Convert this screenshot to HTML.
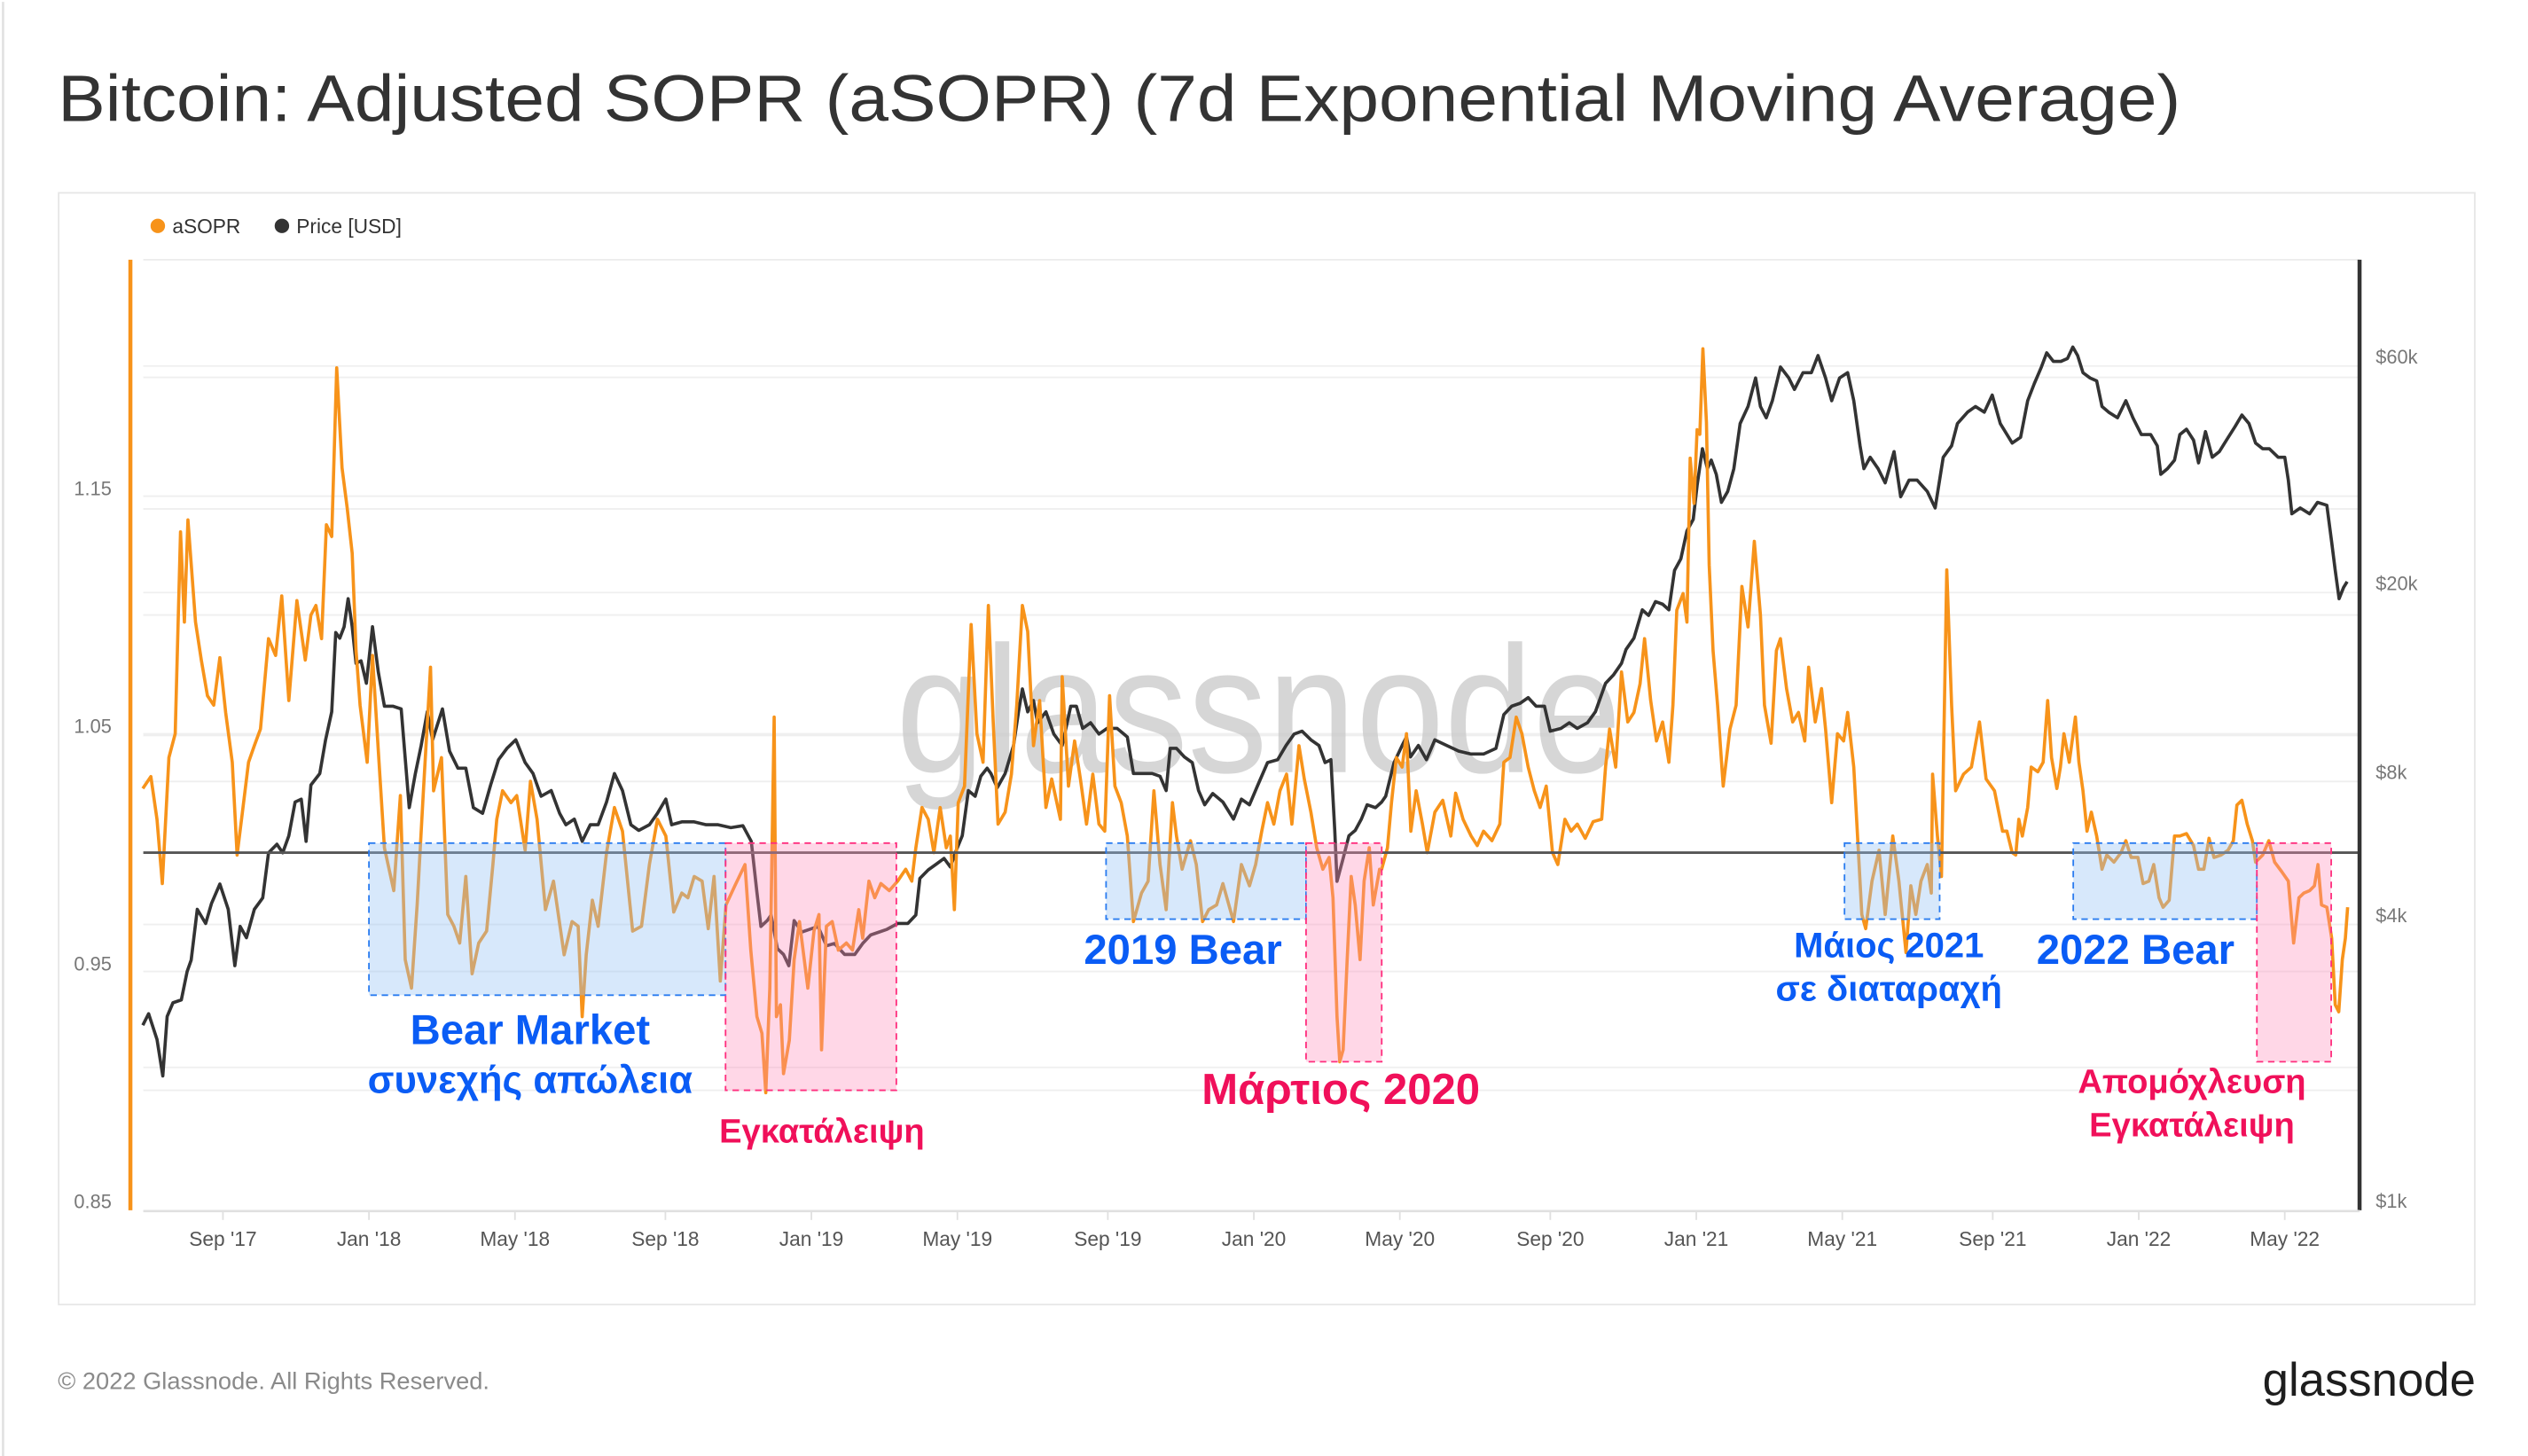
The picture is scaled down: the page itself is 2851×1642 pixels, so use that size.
<!DOCTYPE html>
<html><head><meta charset="utf-8"><style>
html,body{margin:0;padding:0;background:#fff;}
svg{display:block;font-family:"Liberation Sans",sans-serif;}
</style></head><body>
<svg id="chart" width="2851" height="1642" viewBox="-0.9 -1.2 1568.4 903.7" preserveAspectRatio="none" xmlns="http://www.w3.org/2000/svg">
<rect x="-1" y="-2" width="1572" height="908" fill="#fff"/>
<line x1="1" y1="0" x2="1" y2="903" stroke="#e2e2e2" stroke-width="1.5"/>
<text x="35" y="74" font-size="41" fill="#333" textLength="1317" lengthAdjust="spacingAndGlyphs">Bitcoin: Adjusted SOPR (aSOPR) (7d Exponential Moving Average)</text>
<rect x="35.5" y="118.5" width="1499" height="690" fill="#fff" stroke="#e6e6e6" stroke-width="1"/>
<g>
<circle cx="97" cy="139" r="4.5" fill="#f7931a"/>
<text x="106" y="143.5" font-size="12.5" fill="#333">aSOPR</text>
<circle cx="174" cy="139" r="4.5" fill="#333"/>
<text x="183" y="143.5" font-size="12.5" fill="#333">Price [USD]</text>
</g>
<g id="grid"></g>
<text x="780" y="478" font-size="112" fill="#c8c8c8" fill-opacity="0.75" text-anchor="middle" textLength="450" lengthAdjust="spacingAndGlyphs">glassnode</text>
<g id="series"></g>
<g id="boxes"></g>
<g id="axes"></g>
<g font-weight="bold" text-anchor="middle">
<text x="328" y="647" font-size="26" fill="#0a5cf5">Bear Market</text>
<text x="328" y="677" font-size="24" fill="#0a5cf5">συνεχής απώλεια</text>
<text x="509" y="708" font-size="21" fill="#f0105a">Εγκατάλειψη</text>
<text x="733" y="597" font-size="26" fill="#0a5cf5">2019 Bear</text>
<text x="831" y="684" font-size="27" fill="#f0105a">Μάρτιος 2020</text>
<text x="1171" y="593" font-size="22" fill="#0a5cf5">Μάιος 2021</text>
<text x="1171" y="620" font-size="22" fill="#0a5cf5">σε διαταραχή</text>
<text x="1324" y="597" font-size="26" fill="#0a5cf5">2022 Bear</text>
<text x="1359" y="677" font-size="21" fill="#f0105a">Απομόχλευση</text>
<text x="1359" y="704" font-size="21" fill="#f0105a">Εγκατάλειψη</text>
</g>
<text x="35" y="861" font-size="15" fill="#8a8a8a">© 2022 Glassnode. All Rights Reserved.</text>
<text x="1535" y="865" font-size="29" fill="#1e1e1e" text-anchor="end">glassnode</text>
</svg>
<script>
const asoprT=[2017.489,2017.507,2017.521,2017.533,2017.548,2017.562,2017.574,2017.583,2017.591,2017.608,2017.621,2017.635,2017.649,2017.663,2017.676,2017.691,2017.702,2017.714,2017.728,2017.741,2017.755,2017.773,2017.789,2017.803,2017.819,2017.837,2017.856,2017.869,2017.880,2017.893,2017.904,2017.916,2017.927,2017.939,2017.951,2017.962,2017.971,2017.980,2017.996,2018.008,2018.021,2018.035,2018.056,2018.071,2018.082,2018.096,2018.109,2018.123,2018.139,2018.146,2018.164,2018.178,2018.192,2018.205,2018.219,2018.233,2018.248,2018.266,2018.280,2018.289,2018.302,2018.321,2018.334,2018.353,2018.365,2018.380,2018.399,2018.417,2018.441,2018.459,2018.473,2018.482,2018.491,2018.505,2018.518,2018.537,2018.555,2018.573,2018.596,2018.616,2018.634,2018.652,2018.671,2018.689,2018.707,2018.721,2018.735,2018.753,2018.767,2018.780,2018.794,2018.807,2018.827,2018.850,2018.863,2018.877,2018.888,2018.897,2018.906,2018.916,2018.921,2018.930,2018.937,2018.950,2018.961,2018.973,2018.992,2019.006,2019.017,2019.023,2019.034,2019.047,2019.061,2019.079,2019.093,2019.107,2019.116,2019.130,2019.143,2019.157,2019.176,2019.195,2019.213,2019.227,2019.236,2019.250,2019.264,2019.277,2019.291,2019.305,2019.314,2019.323,2019.332,2019.346,2019.361,2019.374,2019.388,2019.400,2019.411,2019.422,2019.438,2019.452,2019.464,2019.477,2019.489,2019.502,2019.516,2019.530,2019.543,2019.563,2019.567,2019.581,2019.595,2019.608,2019.622,2019.636,2019.650,2019.663,2019.674,2019.686,2019.700,2019.714,2019.728,2019.746,2019.761,2019.774,2019.788,2019.802,2019.816,2019.825,2019.838,2019.857,2019.870,2019.884,2019.898,2019.916,2019.930,2019.954,2019.972,2019.990,2020.004,2020.018,2020.031,2020.045,2020.059,2020.074,2020.086,2020.102,2020.114,2020.129,2020.142,2020.156,2020.170,2020.179,2020.188,2020.194,2020.202,2020.211,2020.220,2020.229,2020.240,2020.249,2020.261,2020.270,2020.284,2020.289,2020.302,2020.311,2020.322,2020.335,2020.345,2020.355,2020.367,2020.381,2020.392,2020.409,2020.427,2020.445,2020.456,2020.473,2020.491,2020.505,2020.519,2020.538,2020.556,2020.565,2020.579,2020.593,2020.606,2020.620,2020.634,2020.647,2020.661,2020.675,2020.687,2020.703,2020.717,2020.731,2020.749,2020.767,2020.786,2020.795,2020.804,2020.818,2020.831,2020.845,2020.859,2020.873,2020.883,2020.897,2020.910,2020.924,2020.938,2020.947,2020.956,2020.970,2020.979,2020.986,2020.995,2021.002,2021.008,2021.015,2021.023,2021.029,2021.038,2021.048,2021.061,2021.076,2021.090,2021.103,2021.117,2021.131,2021.145,2021.154,2021.169,2021.181,2021.190,2021.204,2021.218,2021.231,2021.245,2021.254,2021.269,2021.283,2021.292,2021.306,2021.319,2021.333,2021.342,2021.356,2021.365,2021.374,2021.383,2021.397,2021.413,2021.427,2021.444,2021.458,2021.474,2021.485,2021.496,2021.508,2021.522,2021.531,2021.534,2021.545,2021.554,2021.566,2021.577,2021.586,2021.604,2021.622,2021.640,2021.655,2021.674,2021.692,2021.702,2021.714,2021.722,2021.729,2021.737,2021.749,2021.757,2021.772,2021.784,2021.794,2021.803,2021.815,2021.823,2021.831,2021.843,2021.857,2021.865,2021.874,2021.883,2021.893,2021.905,2021.917,2021.928,2021.944,2021.960,2021.971,2021.983,2021.998,2022.010,2022.023,2022.034,2022.046,2022.055,2022.069,2022.081,2022.093,2022.108,2022.124,2022.135,2022.147,2022.159,2022.170,2022.186,2022.202,2022.214,2022.222,2022.233,2022.245,2022.257,2022.264,2022.280,2022.294,2022.307,2022.323,2022.338,2022.350,2022.362,2022.373,2022.386,2022.397,2022.405,2022.413,2022.425,2022.436,2022.444,2022.452,2022.460,2022.467,2022.472];
const asoprV=[1.027,1.032,1.014,0.987,1.040,1.050,1.135,1.097,1.140,1.097,1.081,1.066,1.062,1.082,1.059,1.038,0.999,1.017,1.038,1.045,1.052,1.090,1.083,1.108,1.064,1.106,1.081,1.100,1.104,1.090,1.138,1.133,1.204,1.162,1.145,1.126,1.085,1.062,1.038,1.083,1.043,1.002,0.984,1.024,0.955,0.943,0.978,1.026,1.078,1.026,1.040,0.974,0.969,0.962,0.990,0.949,0.962,0.967,0.995,1.014,1.026,1.021,1.024,1.001,1.030,1.014,0.976,0.988,0.957,0.971,0.969,0.931,0.957,0.980,0.969,1.000,1.019,1.009,0.967,0.969,0.995,1.014,1.007,0.975,0.983,0.981,0.990,0.988,0.968,0.990,0.946,0.978,0.986,0.995,0.959,0.931,0.924,0.899,0.943,1.057,0.931,0.936,0.907,0.921,0.955,0.971,0.943,0.967,0.974,0.917,0.969,0.971,0.959,0.962,0.959,0.976,0.964,0.988,0.981,0.987,0.984,0.988,0.993,0.988,1.002,1.019,1.014,1.000,1.019,1.002,1.007,0.976,1.021,1.028,1.096,1.050,1.038,1.104,1.055,1.012,1.017,1.033,1.062,1.104,1.093,1.045,1.064,1.019,1.031,1.014,1.074,1.028,1.047,1.031,1.012,1.033,1.012,1.009,1.066,1.028,1.021,1.007,0.971,0.983,0.988,1.026,0.995,0.976,1.021,1.007,0.993,1.005,0.995,0.971,0.976,0.978,0.987,0.971,0.995,0.986,0.995,1.009,1.021,1.012,1.026,1.033,1.012,1.045,1.031,1.017,1.002,0.993,0.998,0.981,0.931,0.912,0.917,0.955,0.990,0.978,0.955,0.988,1.002,0.978,0.993,0.993,1.002,1.021,1.040,1.036,1.050,1.009,1.026,1.012,1.000,1.017,1.022,1.007,1.025,1.014,1.007,1.003,1.009,1.005,1.012,1.038,1.040,1.057,1.050,1.036,1.026,1.019,1.028,1.000,0.995,1.014,1.009,1.012,1.006,1.013,1.014,1.036,1.052,1.036,1.076,1.055,1.059,1.071,1.090,1.064,1.047,1.055,1.038,1.062,1.102,1.109,1.097,1.166,1.147,1.178,1.176,1.212,1.181,1.121,1.085,1.062,1.028,1.052,1.062,1.112,1.095,1.131,1.100,1.062,1.046,1.085,1.090,1.069,1.055,1.059,1.047,1.078,1.055,1.069,1.052,1.021,1.050,1.047,1.059,1.036,1.005,0.974,0.968,0.988,1.001,0.974,1.007,0.988,0.958,0.986,0.974,0.988,0.995,0.983,1.033,1.007,0.990,1.119,1.062,1.026,1.033,1.036,1.055,1.031,1.026,1.009,1.009,1.000,0.999,1.014,1.007,1.019,1.036,1.034,1.038,1.064,1.040,1.027,1.036,1.050,1.038,1.057,1.038,1.026,1.009,1.017,1.007,0.993,0.999,0.996,1.000,1.005,0.998,0.998,0.987,0.988,0.995,0.981,0.977,0.980,1.007,1.007,1.008,1.003,0.993,0.993,1.006,0.998,0.999,1.001,1.005,1.020,1.022,1.012,1.005,0.996,0.999,1.005,0.996,0.992,0.988,0.962,0.981,0.983,0.984,0.986,0.995,0.978,0.977,0.964,0.936,0.933,0.955,0.964,0.977];
const priceT=[2017.489,2017.502,2017.521,2017.534,2017.544,2017.557,2017.576,2017.589,2017.598,2017.612,2017.631,2017.644,2017.663,2017.682,2017.697,2017.709,2017.723,2017.741,2017.760,2017.773,2017.792,2017.805,2017.819,2017.833,2017.847,2017.858,2017.869,2017.889,2017.902,2017.916,2017.925,2017.934,2017.944,2017.953,2017.962,2017.971,2017.982,2017.994,2018.008,2018.021,2018.035,2018.054,2018.073,2018.091,2018.105,2018.118,2018.132,2018.144,2018.166,2018.182,2018.201,2018.219,2018.236,2018.257,2018.275,2018.293,2018.312,2018.332,2018.353,2018.371,2018.389,2018.412,2018.431,2018.445,2018.464,2018.482,2018.500,2018.518,2018.537,2018.555,2018.573,2018.592,2018.610,2018.634,2018.652,2018.671,2018.684,2018.707,2018.735,2018.762,2018.789,2018.818,2018.845,2018.864,2018.877,2018.886,2018.900,2018.909,2018.923,2018.937,2018.949,2018.961,2018.978,2018.996,2019.015,2019.034,2019.052,2019.075,2019.098,2019.116,2019.134,2019.153,2019.171,2019.195,2019.218,2019.236,2019.245,2019.264,2019.282,2019.300,2019.314,2019.328,2019.341,2019.355,2019.370,2019.383,2019.397,2019.406,2019.420,2019.438,2019.457,2019.468,2019.477,2019.489,2019.502,2019.511,2019.530,2019.548,2019.567,2019.586,2019.599,2019.613,2019.631,2019.650,2019.668,2019.691,2019.714,2019.728,2019.746,2019.770,2019.788,2019.802,2019.811,2019.825,2019.843,2019.861,2019.875,2019.889,2019.907,2019.930,2019.954,2019.972,2019.990,2020.009,2020.031,2020.054,2020.073,2020.091,2020.109,2020.129,2020.147,2020.161,2020.174,2020.183,2020.188,2020.202,2020.215,2020.229,2020.243,2020.256,2020.275,2020.289,2020.298,2020.317,2020.335,2020.345,2020.354,2020.372,2020.390,2020.409,2020.436,2020.463,2020.491,2020.519,2020.547,2020.565,2020.583,2020.602,2020.620,2020.638,2020.657,2020.670,2020.694,2020.713,2020.731,2020.754,2020.772,2020.795,2020.813,2020.831,2020.841,2020.859,2020.878,2020.892,2020.908,2020.924,2020.938,2020.951,2020.965,2020.979,2020.993,2021.002,2021.014,2021.025,2021.034,2021.045,2021.057,2021.071,2021.085,2021.099,2021.117,2021.134,2021.145,2021.158,2021.172,2021.190,2021.209,2021.222,2021.241,2021.260,2021.275,2021.292,2021.306,2021.324,2021.342,2021.356,2021.370,2021.379,2021.393,2021.411,2021.427,2021.447,2021.462,2021.481,2021.499,2021.522,2021.540,2021.558,2021.577,2021.590,2021.613,2021.631,2021.651,2021.669,2021.687,2021.714,2021.733,2021.749,2021.764,2021.780,2021.792,2021.807,2021.824,2021.839,2021.851,2021.862,2021.874,2021.890,2021.905,2021.917,2021.932,2021.952,2021.971,2021.987,2022.006,2022.027,2022.042,2022.050,2022.065,2022.081,2022.093,2022.108,2022.124,2022.135,2022.151,2022.166,2022.182,2022.198,2022.218,2022.233,2022.249,2022.264,2022.280,2022.295,2022.315,2022.330,2022.338,2022.346,2022.365,2022.386,2022.404,2022.425,2022.436,2022.444,2022.453,2022.463,2022.471];
const priceV=[2455,2594,2291,1918,2559,2736,2775,3184,3365,4305,4018,4426,4866,4305,3273,3963,3750,4305,4550,5662,5902,5662,6152,7244,7345,5984,7870,8318,9795,11220,16480,16030,16940,19410,16940,14190,14360,12880,16940,13610,11530,11530,11380,7047,8318,9528,11220,9795,11380,9268,8531,8531,7047,6855,7870,8892,9397,9795,8770,8318,7447,7656,6855,6486,6668,5984,6486,6486,7244,8318,7656,6486,6310,6486,6855,7345,6486,6577,6577,6486,6486,6397,6457,5984,4677,3963,4074,4188,3556,3459,3273,4074,3855,3908,3963,3606,3648,3459,3459,3648,3802,3855,3908,4018,4018,4188,5000,5212,5358,5508,5284,5741,6152,7656,7447,8204,8531,8318,7762,8318,9528,11220,12530,11220,11850,10640,11220,10070,9528,11530,11530,10350,10640,10070,10350,10350,9931,8318,8318,8318,8204,7656,9397,9397,9016,8770,7656,7145,7551,7244,6668,7345,7145,7870,8770,8892,9528,10070,10210,9795,9528,8770,8892,6310,4932,5508,6152,6310,6668,7145,7047,7244,7447,8770,9528,9931,9016,9528,8892,9795,9528,9268,9141,9141,9397,11070,11530,11690,12020,11530,11530,10210,10350,10640,10350,10640,11220,12880,13430,14190,15180,16030,18390,17900,19140,18910,18390,22280,23550,26980,28510,33600,40180,36480,38020,35480,30970,32660,36480,45400,49320,56620,49320,46670,50700,59700,56620,53580,58080,58080,63100,56620,50700,56620,58080,50700,40740,36480,38550,36480,34040,39630,31830,34510,34510,32660,30130,38550,40740,45400,47970,49320,47970,52120,45400,41300,42460,50700,55080,59700,63970,61380,61380,62230,65770,63100,58080,56620,55840,49320,47970,46670,50700,46670,43050,43050,40740,35480,36480,38020,43050,44160,41880,37500,43650,38550,39630,41880,44770,47320,45400,41300,40180,40180,38550,38550,34510,29310,30130,29310,30970,30550,25530,22280,19410,20510,21090];
const leftTicks=[0.85,0.95,1.05,1.15];
const leftGrid=[0.9,0.95,1.05,1.1,1.15,1.2];
const rightTicks=[1000,4000,8000,20000,60000];
const rightTickLabels=["$1k","$4k","$8k","$20k","$60k"];
const rightGrid=[2000,4000,8000,10000,20000,30000,60000];
const xTicks=[2017.67,2018.0,2018.33,2018.67,2019.0,2019.33,2019.67,2020.0,2020.33,2020.67,2021.0,2021.33,2021.67,2022.0,2022.33];
const xTickLabels=["Sep '17","Jan '18","May '18","Sep '18","Jan '19","May '19","Sep '19","Jan '20","May '20","Sep '20","Jan '21","May '21","Sep '21","Jan '22","May '22"];
const boxT0=[2018.0,2018.806,2019.666,2020.118,2021.335,2021.852,2022.267];
const boxT1=[2018.806,2019.192,2020.118,2020.289,2021.550,2022.267,2022.435];
const boxV0=[0.940,0.900,0.972,0.912,0.972,0.972,0.912];
const boxKind=["bear","capitulation","bear","capitulation","bear","bear","capitulation"];
const boxTop=1.004;

const NS="http://www.w3.org/2000/svg";
const PL=80,PR=1463,PT=160,PB=750;
function xOf(t){return 228+(t-2018)*274.5;}
function yL(v){return 528-(v-1)*1475;}
function yR(p){return 750-(Math.log10(p)-3)*294.7;}
function mk(tag,attrs,parent){const e=document.createElementNS(NS,tag);for(const k in attrs)e.setAttribute(k,attrs[k]);parent.appendChild(e);return e;}
const grid=document.getElementById('grid');
const series=document.getElementById('series');
const boxes=document.getElementById('boxes');
const axes=document.getElementById('axes');

let g=mk('line',{x1:88,y1:PT,x2:PR,y2:PT,stroke:'#ececec','stroke-width':1},grid);


leftGrid.forEach(v=>{const l=mk('line',{x1:88,y1:yL(v),x2:PR,y2:yL(v),stroke:'#efefef','stroke-width':1},grid);

});
rightGrid.forEach(p=>{const l=mk('line',{x1:88,y1:yR(p),x2:PR,y2:yR(p),stroke:'#efefef','stroke-width':1},grid);

});

function pathD(ts,vs,yf){return ts.map((t,i)=>(i?'L':'M')+xOf(t).toFixed(1)+','+yf(vs[i]).toFixed(1)).join('');}
const pl=mk('path',{d:pathD(priceT,priceV,yR),fill:'none',stroke:'#333','stroke-width':2,'stroke-linejoin':'round'},series);


const al=mk('path',{d:pathD(asoprT,asoprV,yL),fill:'none',stroke:'#f7931a','stroke-width':2,'stroke-linejoin':'round'},series);


const ref=mk('line',{x1:88,y1:yL(1),x2:PR,y2:yL(1),stroke:'#555','stroke-width':1.6},series);



boxT0.forEach((t0,i)=>{const bear=boxKind[i]==='bear';
const x0=xOf(t0),x1=xOf(boxT1[i]),y0=yL(boxTop),y1=yL(boxV0[i]);
const r=mk('rect',{x:x0,y:y0,width:x1-x0,height:y1-y0,fill:bear?'rgba(150,195,245,0.38)':'rgba(255,140,185,0.35)',stroke:bear?'#2a7cf0':'#ff2e7e','stroke-width':1,'stroke-dasharray':'4,3'},boxes);

});

let a=mk('line',{x1:PL,y1:PT,x2:PL,y2:PB,stroke:'#f7931a','stroke-width':2.5},axes);


a=mk('line',{x1:PR,y1:PT,x2:PR,y2:PB,stroke:'#333','stroke-width':2.5},axes);


a=mk('line',{x1:88,y1:PB+0.5,x2:PR,y2:PB+0.5,stroke:'#e0e0e0','stroke-width':1.5},axes);


leftTicks.forEach(v=>{const t=mk('text',{x:45,y:yL(v)-0.5,'font-size':12,fill:'#777'},axes);t.textContent=v.toFixed(2);

});
rightTicks.forEach((p,i)=>{const t=mk('text',{x:1473,y:yR(p)-1.5,'font-size':12,fill:'#777'},axes);t.textContent=rightTickLabels[i];

});
xTicks.forEach((tt,i)=>{const x=xOf(tt);
const tk=mk('line',{x1:x,y1:PB,x2:x,y2:PB+6,stroke:'#e0e0e0','stroke-width':1},axes);


const t=mk('text',{x:x,y:772,'font-size':12.5,fill:'#555','text-anchor':'middle'},axes);t.textContent=xTickLabels[i];

});
</script>
</body></html>
